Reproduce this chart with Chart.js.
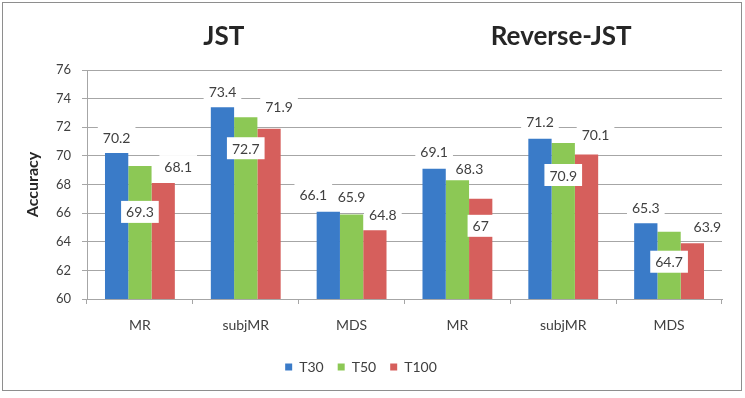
<!DOCTYPE html>
<html>
<head>
<meta charset="utf-8">
<script src="https://cdn.jsdelivr.net/npm/chart.js@4/dist/chart.umd.min.js"></script>
<style>
  html, body { margin: 0; padding: 0; background: #fff; }
  #wrap { position: relative; width: 745px; height: 398px; }
  #frame { position: absolute; left: 2px; top: 2px; width: 738px; height: 387px; border: 1px solid #8e8e8e; pointer-events: none; }
</style>
</head>
<body>
<div id="wrap">
  <canvas id="chart" width="745" height="398"></canvas>
  <div id="frame"></div>
</div>
<script>
const categories = ["MR", "subjMR", "MDS", "MR", "subjMR", "MDS"];
const groupTitles = ["JST", "Reverse-JST"];
const seriesNames = ["T30", "T50", "T100"];
const t30 = [70.2, 73.4, 66.1, 69.1, 71.2, 65.3];
const t50 = [69.3, 72.7, 65.9, 68.3, 70.9, 64.7];
const t100 = [68.1, 71.9, 64.8, 67, 70.1, 63.9];
const yMin = 60, yMax = 76, yStep = 2;

const colors = ["#3a7bc8", "#8cc855", "#d65f5c"];
const FONT = "Lato";

// value label placement, px from the top-centre of each bar (as dragged in the original)
const labelShiftX = [
  [0, 0, -15, 0, 0, 0],
  [0, 0, 0, 12, 0, 0],
  [15, 10, 8, 0, 9, 15]
];
const labelShiftY = [
  [-16, -16, -17, -17, -17, -16],
  [46, 31, -18, -12, 32, 30],
  [-17, -22, -16, 27, -20, -17]
];
// group title centres: middle category of each half, nudged
const titleIndex = [1, 4];
const titleShift = [-22, -2];

const valueLabels = {
  id: "valueLabels",
  afterDatasetsDraw(chart) {
    const ctx = chart.ctx;
    ctx.save();
    ctx.font = "14px " + FONT;
    ctx.textAlign = "center";
    ctx.textBaseline = "middle";
    chart.data.datasets.forEach((ds, i) => {
      const meta = chart.getDatasetMeta(i);
      meta.data.forEach((bar, j) => {
        const txt = String(ds.data[j]);
        const x = bar.x + labelShiftX[i][j];
        const y = bar.y + labelShiftY[i][j];
        const w = ctx.measureText(txt).width + 10;
        ctx.fillStyle = "#ffffff";
        ctx.fillRect(x - w / 2, y - 11, w, 22);
        ctx.fillStyle = "#404040";
        ctx.fillText(txt, x, y + 1);
      });
    });
    ctx.restore();
  }
};

const groupHeaders = {
  id: "groupHeaders",
  afterDraw(chart) {
    const ctx = chart.ctx;
    const xs = chart.scales.x;
    ctx.save();
    ctx.font = "bold 26px " + FONT;
    ctx.textAlign = "center";
    ctx.textBaseline = "alphabetic";
    ctx.fillStyle = "#262626";
    groupTitles.forEach((t, k) => {
      ctx.fillText(t, xs.getPixelForValue(titleIndex[k]) + titleShift[k], 45);
    });
    ctx.restore();
  }
};

new Chart(document.getElementById("chart").getContext("2d"), {
  type: "bar",
  data: {
    labels: categories,
    datasets: [
      { label: seriesNames[0], data: t30, backgroundColor: colors[0], borderWidth: 0 },
      { label: seriesNames[1], data: t50, backgroundColor: colors[1], borderWidth: 0 },
      { label: seriesNames[2], data: t100, backgroundColor: colors[2], borderWidth: 0 }
    ]
  },
  options: {
    responsive: false,
    animation: false,
    layout: { padding: { top: 70, right: 23, bottom: 14, left: 0 } },
    datasets: { bar: { categoryPercentage: 0.66, barPercentage: 1 } },
    plugins: {
      tooltip: { enabled: false },
      legend: {
        position: "bottom",
        labels: { boxWidth: 7, boxHeight: 7, padding: 14, color: "#404040", font: { family: FONT, size: 14 } }
      }
    },
    scales: {
      x: {
        grid: { offset: true, drawOnChartArea: false, drawTicks: true, tickLength: 5, color: "#a6a6a6" },
        border: { display: true, color: "#a6a6a6" },
        ticks: { color: "#404040", font: { family: FONT, size: 14 }, padding: 13 },
        afterFit: s => { s.height = 47; }
      },
      y: {
        min: yMin,
        max: yMax,
        ticks: { stepSize: yStep, color: "#404040", font: { family: FONT, size: 13 }, padding: 11 },
        grid: { color: "#a6a6a6", tickLength: 5 },
        border: { display: true, color: "#a6a6a6" },
        title: {
          display: true, text: "Accuracy", color: "#262626",
          font: { family: FONT, size: 16, weight: "bold" }, padding: { top: 23, bottom: 0 }
        },
        afterFit: s => { s.width = 87; }
      }
    }
  },
  plugins: [valueLabels, groupHeaders]
});
</script>
</body>
</html>
